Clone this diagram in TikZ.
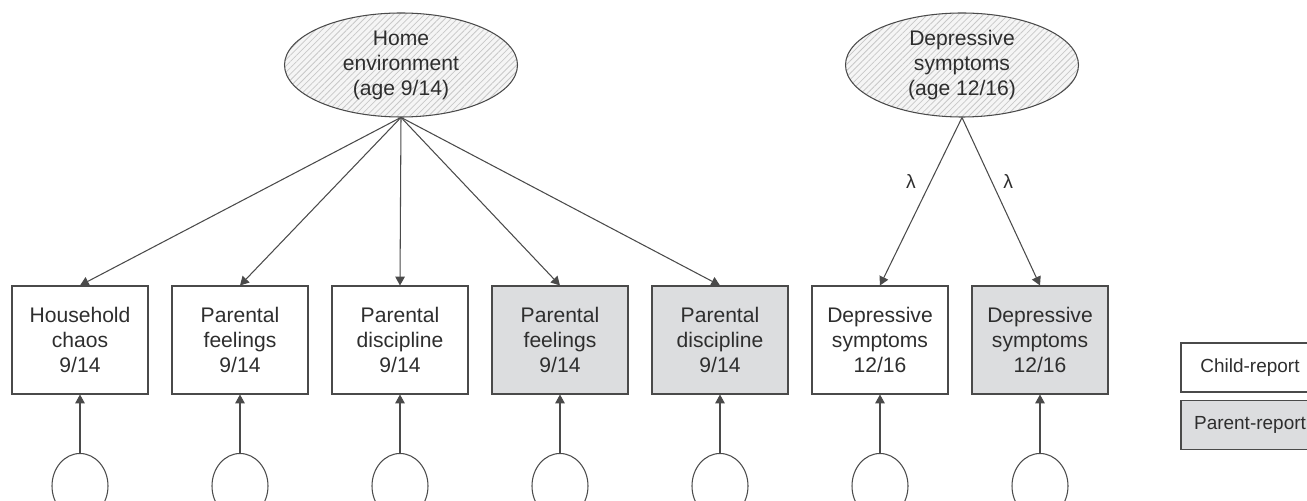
\documentclass[tikz,border=0pt]{standalone}
\usepackage{fontspec}
\setmainfont{Liberation Sans}
\usepackage{tikz}
\usetikzlibrary{arrows.meta, patterns.meta, shapes.geometric}

\definecolor{boxgray}{HTML}{DCDDDF}
\definecolor{edgegray}{HTML}{4A4A4A}
\definecolor{hatchbg}{HTML}{F5F5F5}
\definecolor{hatchline}{HTML}{C8C8C8}
\definecolor{textgray}{HTML}{2E2E2E}

\begin{document}
\begin{tikzpicture}[
    indicator/.style={draw=edgegray, line width=0.6pt, minimum width=2.72cm,
      minimum height=2.16cm, inner sep=0pt, align=center, text=textgray,
      font=\fontsize{12}{14.2}\selectfont},
    parentbox/.style={indicator, fill=boxgray},
    latent/.style={ellipse, draw=edgegray, line width=0.6pt, minimum width=4.66cm,
      minimum height=2.08cm, inner sep=0pt, align=center, text=textgray,
      font=\fontsize{12}{14.2}\selectfont, preaction={fill=hatchbg},
      pattern={Lines[angle=45, distance=2.5pt, line width=0.45pt]},
      pattern color=hatchline},
    residual/.style={ellipse, draw=edgegray, line width=0.6pt,
      minimum width=1.12cm, minimum height=1.3cm, inner sep=0pt},
    legendbox/.style={draw=edgegray, line width=0.8pt, minimum width=2.76cm,
      minimum height=0.98cm, inner sep=0pt, text=textgray,
      font=\fontsize{10.8}{13}\selectfont},
    loading/.style={draw=edgegray, line width=0.6pt,
      -{Triangle[length=5pt, width=5.4pt]}},
    weight/.style={text=textgray, font=\fontsize{11}{13}\selectfont}
  ]
  \useasboundingbox (0,0) rectangle (26.14,10.02);

  % Latent factors
  \node[latent] (home) at (8.02,8.72) {Home\\environment\\(age 9/14)};
  \node[latent] (dep) at (19.24,8.72) {Depressive\\symptoms\\(age 12/16)};

  % Observed measures
  \node[indicator] (hc) at (1.6,3.22) {Household\\chaos\\9/14};
  \node[indicator] (pfc) at (4.8,3.22) {Parental\\feelings\\9/14};
  \node[indicator] (pdc) at (8.0,3.22) {Parental\\discipline\\9/14};
  \node[parentbox] (pfp) at (11.2,3.22) {Parental\\feelings\\9/14};
  \node[parentbox] (pdp) at (14.4,3.22) {Parental\\discipline\\9/14};
  \node[indicator] (dsc) at (17.6,3.22) {Depressive\\symptoms\\12/16};
  \node[parentbox] (dsp) at (20.8,3.22) {Depressive\\symptoms\\12/16};

  % Residuals
  \node[residual] (e1) at (1.6,0.3) {};
  \node[residual] (e2) at (4.8,0.3) {};
  \node[residual] (e3) at (8.0,0.3) {};
  \node[residual] (e4) at (11.2,0.3) {};
  \node[residual] (e5) at (14.4,0.3) {};
  \node[residual] (e6) at (17.6,0.3) {};
  \node[residual] (e7) at (20.8,0.3) {};

  % Loadings
  \draw[loading] (home.south) -- (hc.north);
  \draw[loading] (home.south) -- (pfc.north);
  \draw[loading] (home.south) -- (pdc.north);
  \draw[loading] (home.south) -- (pfp.north);
  \draw[loading] (home.south) -- (pdp.north);
  \draw[loading] (dep.south) -- node[weight, pos=0.38, left=5pt] {λ} (dsc.north);
  \draw[loading] (dep.south) -- node[weight, pos=0.38, right=3pt] {λ} (dsp.north);

  % Error terms
  \draw[loading] (e1.north) -- (hc.south);
  \draw[loading] (e2.north) -- (pfc.south);
  \draw[loading] (e3.north) -- (pdc.south);
  \draw[loading] (e4.north) -- (pfp.south);
  \draw[loading] (e5.north) -- (pdp.south);
  \draw[loading] (e6.north) -- (dsc.south);
  \draw[loading] (e7.north) -- (dsp.south);

  % Legend
  \node[legendbox] (child) at (25.0,2.67) {Child-report};
  \node[legendbox, fill=boxgray] (parent) at (25.0,1.52) {Parent-report};
\end{tikzpicture}
\end{document}
